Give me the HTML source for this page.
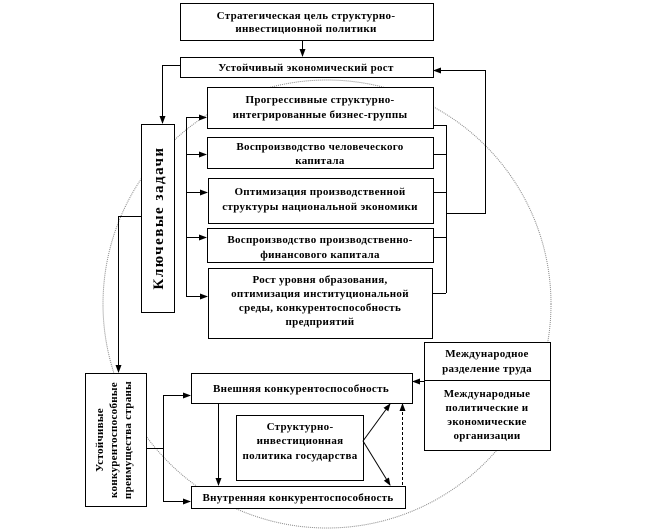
<!DOCTYPE html>
<html><head><meta charset="utf-8"><style>
body{margin:0;background:#fff}
svg{display:block}
text{font-family:"Liberation Serif",serif;font-weight:bold;font-size:11px;letter-spacing:0.3px;fill:#000}
</style></head><body>
<svg width="647" height="532" viewBox="0 0 647 532" xmlns="http://www.w3.org/2000/svg">
<defs><marker id="a" markerWidth="8" markerHeight="8" refX="7" refY="4" orient="auto" markerUnits="userSpaceOnUse"><path d="M0,1 L8,4 L0,7z" fill="#000"/></marker></defs>
<circle cx="327" cy="304" r="224" fill="none" stroke="#888" stroke-width="1" stroke-dasharray="1,1"/>
<g fill="#fff" stroke="#000" stroke-width="1">
<rect x="180.5" y="3.5" width="253" height="37"/>
<rect x="180.5" y="57.5" width="253" height="20"/>
<rect x="141.5" y="124.5" width="33" height="188"/>
<rect x="207.5" y="87.5" width="226" height="41"/>
<rect x="207.5" y="137.5" width="226" height="31"/>
<rect x="208.5" y="178.5" width="225" height="45"/>
<rect x="207.5" y="228.5" width="226" height="34"/>
<rect x="208.5" y="268.5" width="224" height="70"/>
<rect x="85.5" y="373.5" width="61" height="133"/>
<rect x="191.5" y="373.5" width="221" height="30"/>
<rect x="191.5" y="486.5" width="214" height="22"/>
<rect x="236.5" y="415.5" width="127" height="65"/>
<rect x="424.5" y="342.5" width="126" height="108"/>
</g>
<g stroke="#000" stroke-width="1" fill="none">
<line x1="424" y1="380.5" x2="550" y2="380.5"/>
<line x1="302.5" y1="40" x2="302.5" y2="56" marker-end="url(#a)"/>
<polyline points="180,65.5 162.5,65.5 162.5,123" marker-end="url(#a)"/>
<line x1="186.5" y1="117" x2="186.5" y2="296"/>
<line x1="186" y1="117.5" x2="206" y2="117.5" marker-end="url(#a)"/>
<line x1="186" y1="154.5" x2="206" y2="154.5" marker-end="url(#a)"/>
<line x1="186" y1="192.5" x2="207" y2="192.5" marker-end="url(#a)"/>
<line x1="186" y1="237.5" x2="206" y2="237.5" marker-end="url(#a)"/>
<line x1="186" y1="296.5" x2="207" y2="296.5" marker-end="url(#a)"/>
<line x1="446.5" y1="125" x2="446.5" y2="293"/>
<line x1="433" y1="125.5" x2="446" y2="125.5"/>
<line x1="433" y1="154.5" x2="446" y2="154.5"/>
<line x1="433" y1="192.5" x2="446" y2="192.5"/>
<line x1="433" y1="237.5" x2="446" y2="237.5"/>
<line x1="432" y1="293.5" x2="446" y2="293.5"/>
<polyline points="446,213.5 485.5,213.5 485.5,70.5 434,70.5" marker-end="url(#a)"/>
<polyline points="141,216.5 118.5,216.5 118.5,372" marker-end="url(#a)"/>
<line x1="146" y1="448.5" x2="163" y2="448.5"/>
<line x1="163.5" y1="395" x2="163.5" y2="501"/>
<line x1="163" y1="395.5" x2="190" y2="395.5" marker-end="url(#a)"/>
<line x1="163" y1="501.5" x2="190" y2="501.5" marker-end="url(#a)"/>
<line x1="218.5" y1="403" x2="218.5" y2="485" marker-end="url(#a)"/>
<line x1="363" y1="441" x2="390" y2="404" marker-end="url(#a)"/>
<line x1="363" y1="441" x2="390" y2="485" marker-end="url(#a)"/>
<line x1="402.5" y1="485" x2="402.5" y2="404" stroke-dasharray="3,2" marker-end="url(#a)"/>
<line x1="424" y1="381.5" x2="413" y2="381.5" marker-end="url(#a)"/>
</g>
<g text-anchor="middle">
<text x="306" y="19">Стратегическая цель структурно-</text>
<text x="306" y="32">инвестиционной политики</text>
<text x="306" y="71">Устойчивый экономический рост</text>
<text x="320" y="103">Прогрессивные структурно-</text>
<text x="320" y="118">интегрированные бизнес-группы</text>
<text x="320" y="150">Воспроизводство человеческого</text>
<text x="320" y="164">капитала</text>
<text x="320" y="195">Оптимизация производственной</text>
<text x="320" y="210">структуры национальной экономики</text>
<text x="320" y="243">Воспроизводство производственно-</text>
<text x="320" y="258">финансового капитала</text>
<text x="320" y="283">Рост уровня образования,</text>
<text x="320" y="297">оптимизация институциональной</text>
<text x="320" y="311">среды, конкурентоспособность</text>
<text x="320" y="325">предприятий</text>
<text x="301" y="392">Внешняя конкурентоспособность</text>
<text x="298" y="501">Внутренняя конкурентоспособность</text>
<text x="300" y="430">Структурно-</text>
<text x="300" y="444">инвестиционная</text>
<text x="300" y="459">политика государства</text>
<text x="487" y="357">Международное</text>
<text x="487" y="372">разделение труда</text>
<text x="487" y="397">Международные</text>
<text x="487" y="411">политические и</text>
<text x="487" y="425">экономические</text>
<text x="487" y="439">организации</text>
<text transform="translate(163,218) rotate(-90)" style="font-size:15px;letter-spacing:1.5px">Ключевые задачи</text>
<text transform="translate(103,440) rotate(-90)">Устойчивые</text>
<text transform="translate(117,440) rotate(-90)">конкурентоспособные</text>
<text transform="translate(131,440) rotate(-90)">преимущества страны</text>
</g>
</svg>
</body></html>
